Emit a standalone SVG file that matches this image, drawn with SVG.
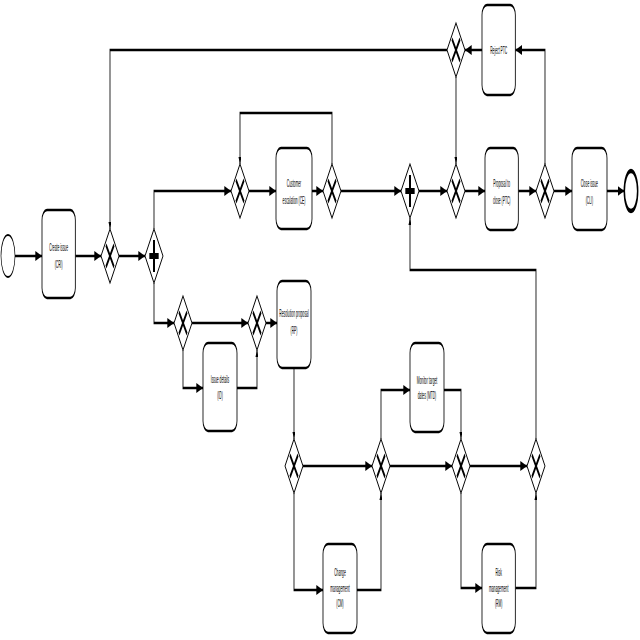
<svg xmlns="http://www.w3.org/2000/svg" xmlns:xlink="http://www.w3.org/1999/xlink" width="640" height="640" viewBox="0 0 640 640">
<style>
.task{fill:#fff;stroke:#000;stroke-width:2.5}
.gw{fill:#fff;stroke:#000;stroke-width:2}
.mk{stroke:#000;stroke-width:4;fill:none}
.flow{fill:none;stroke:#000;stroke-width:2.5}
.fh{marker-end:url(#arrowH)}
.fv{marker-end:url(#arrowV)}
text{font-family:"Liberation Sans",Arial,sans-serif;font-size:10px;fill:#000;text-anchor:middle}
</style>
<defs>
<marker id="arrowH" viewBox="0 0 20 10" markerWidth="20" markerHeight="10" refX="20" refY="5" orient="auto" markerUnits="userSpaceOnUse"><path d="M0,0 L20,5 L0,10 Z" fill="#000"/></marker>
<marker id="arrowV" viewBox="0 0 7 9" markerWidth="7" markerHeight="9" refX="7" refY="4.5" orient="auto" markerUnits="userSpaceOnUse"><path d="M0,0 L7,4.5 L0,9 Z" fill="#000"/></marker>
<g id="gwX"><path class="gw" d="M0,-27 L27,0 L0,27 L-27,0 Z"/><path class="mk" d="M-12,-11 L12,11 M12,-11 L-12,11"/></g>
<g id="gwP"><path class="gw" d="M0,-27 L27,0 L0,27 L-27,0 Z"/><path class="mk" style="stroke-width:6" d="M-14,0 H14 M0,-16 V16"/></g>
</defs>
<rect width="640" height="640" fill="#fff"/>
<g transform="scale(0.33333,1)">
<g id="connectors">
<path class="flow fh" d="M45,256 H126"/>
<path class="flow fh" d="M226,256 H303"/>
<path class="flow fh" d="M357,256 H435"/>
<path class="flow fh" d="M462,229 V191 H693"/>
<path class="flow fh" d="M747,191 H828"/>
<path class="flow fh" d="M936,191 H969"/>
<path class="flow fv" d="M996,164 V113 H720 V164"/>
<path class="flow fh" d="M1023,191 H1203"/>
<path class="flow fh" d="M1257,191 H1341"/>
<path class="flow fh" d="M1395,191 H1455"/>
<path class="flow fh" d="M1555,191 H1608"/>
<path class="flow fh" d="M1662,191 H1716"/>
<path class="flow fh" d="M1821,191 H1873"/>
<path class="flow fh" d="M1635,164 V50 H1546"/>
<path class="flow fh" d="M1446,50 H1395"/>
<path class="flow fv" d="M1368,77 V164"/>
<path class="flow fv" d="M1341,50 H330 V229"/>
<path class="flow fh" d="M462,283 V323 H522"/>
<path class="flow fh" d="M576,323 H744"/>
<path class="flow fh" d="M549,350 V388 H609"/>
<path class="flow fv" d="M711,388 H771 V350"/>
<path class="flow fh" d="M798,323 H831"/>
<path class="flow fv" d="M882,368 V439"/>
<path class="flow fh" d="M909,466 H1116"/>
<path class="flow fh" d="M882,493 V590 H969"/>
<path class="flow fv" d="M1071,590 H1143 V493"/>
<path class="flow fh" d="M1143,439 V390 H1230"/>
<path class="flow fv" d="M1332,390 H1383 V439"/>
<path class="flow fh" d="M1170,466 H1356"/>
<path class="flow fh" d="M1383,493 V588 H1446"/>
<path class="flow fv" d="M1546,588 H1608 V493"/>
<path class="flow fh" d="M1410,466 H1581"/>
<path class="flow fv" d="M1608,439 V270 H1230 V218"/>
</g>
<g id="start"><circle cx="24" cy="256" r="21" fill="#fff" stroke="#000" stroke-width="2"/></g>
<g id="end"><circle cx="1893" cy="191" r="20" fill="#fff" stroke="#000" stroke-width="4.5"/></g>
<g id="CRI"><rect class="task" x="126" y="210" width="100" height="88" rx="15" ry="10"/><text x="176" y="251">Create issue</text><text x="176" y="268">(CRI)</text></g>
<g id="CE"><rect class="task" x="828" y="148" width="108" height="81" rx="15" ry="10"/><text x="882" y="187">Customer</text><text x="882" y="204">escalation (CE)</text></g>
<g id="PTC"><rect class="task" x="1455" y="148" width="100" height="82" rx="15" ry="10"/><text x="1505" y="187">Proposal to</text><text x="1505" y="204">close (PTC)</text></g>
<g id="CLI"><rect class="task" x="1716" y="148" width="105" height="82" rx="15" ry="10"/><text x="1768" y="187">Close issue</text><text x="1768" y="204">(CLI)</text></g>
<g id="RPTC"><rect class="task" x="1446" y="5" width="100" height="90" rx="15" ry="10"/><text x="1496" y="54">Reject PTC</text></g>
<g id="ID"><rect class="task" x="609" y="343" width="102" height="88" rx="15" ry="10"/><text x="660" y="383">Issue details</text><text x="660" y="399">(ID)</text></g>
<g id="RP"><rect class="task" x="831" y="281" width="102" height="87" rx="15" ry="10"/><text x="882" y="317">Resolution proposal</text><text x="882" y="334">(RP)</text></g>
<g id="MTD"><rect class="task" x="1230" y="343" width="102" height="89" rx="15" ry="10"/><text x="1281" y="384">Monitor target</text><text x="1281" y="399">dates (MTD)</text></g>
<g id="CM"><rect class="task" x="969" y="544" width="102" height="89" rx="15" ry="10"/><text x="1020" y="576">Change</text><text x="1020" y="592">management</text><text x="1020" y="607">(CM)</text></g>
<g id="RM"><rect class="task" x="1446" y="544" width="100" height="89" rx="15" ry="10"/><text x="1496" y="576">Risk</text><text x="1496" y="592">management</text><text x="1496" y="607">(RM)</text></g>
<g id="G1"><use href="#gwX" xlink:href="#gwX" x="330" y="256"/></g>
<g id="P1"><use href="#gwP" xlink:href="#gwP" x="462" y="256"/></g>
<g id="G2"><use href="#gwX" xlink:href="#gwX" x="720" y="191"/></g>
<g id="G3"><use href="#gwX" xlink:href="#gwX" x="996" y="191"/></g>
<g id="P2"><use href="#gwP" xlink:href="#gwP" x="1230" y="191"/></g>
<g id="G4"><use href="#gwX" xlink:href="#gwX" x="1368" y="191"/></g>
<g id="G5"><use href="#gwX" xlink:href="#gwX" x="1635" y="191"/></g>
<g id="G6"><use href="#gwX" xlink:href="#gwX" x="1368" y="50"/></g>
<g id="G7"><use href="#gwX" xlink:href="#gwX" x="549" y="323"/></g>
<g id="G8"><use href="#gwX" xlink:href="#gwX" x="771" y="323"/></g>
<g id="G9"><use href="#gwX" xlink:href="#gwX" x="882" y="466"/></g>
<g id="G10"><use href="#gwX" xlink:href="#gwX" x="1143" y="466"/></g>
<g id="G11"><use href="#gwX" xlink:href="#gwX" x="1383" y="466"/></g>
<g id="G12"><use href="#gwX" xlink:href="#gwX" x="1608" y="466"/></g>
</g>
</svg>
